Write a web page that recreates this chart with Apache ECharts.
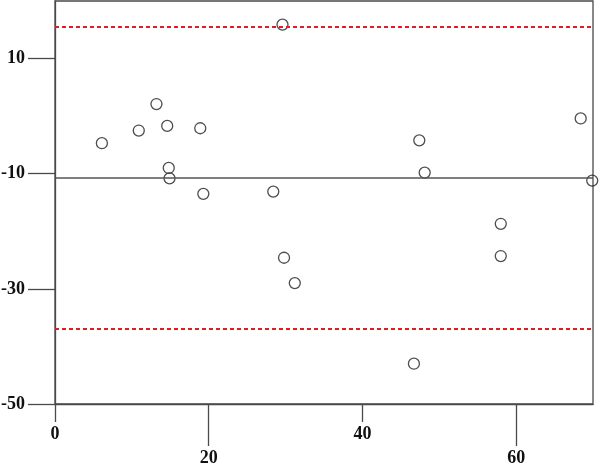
<!DOCTYPE html>
<html>
<head>
<meta charset="utf-8">
<script src="https://cdn.jsdelivr.net/npm/echarts@6/dist/echarts.min.js"></script>
<style>html,body{margin:0;padding:0;background:#fff}#c{width:600px;height:465px}</style>
</head>
<body>
<div id="c"></div>
<script>
// Data
var meanX = [6.1, 10.9, 13.2, 14.6, 18.9, 14.8, 14.9, 19.3, 28.4, 29.6, 68.4, 47.4, 48.1, 69.9, 29.8, 31.2, 58.0, 58.0, 46.7];
var diffY = [-4.7, -2.5, 2.1, -1.7, -2.1, -9.0, -10.8, -13.5, -13.1, 15.9, -0.4, -4.2, -9.8, -11.2, -24.6, -29.0, -18.7, -24.3, -43.0];
var meanLine = [-10.7];
var limitLines = [15.6, -36.9];
var xTicksShort = [0, 40];
var xTicksLong = [20, 60];
var yTicks = [-50, -30, -10, 10];

var points = meanX.map(function (x, i) { return [x, diffY[i]]; });
var font = '"Liberation Serif", "Times New Roman", serif';
var axisColor = '#4a4a4a';

var chart = echarts.init(document.getElementById('c'), null, {renderer: 'canvas'});
chart.setOption({
  animation: false,
  backgroundColor: '#fff',
  grid: {left: 55, right: 7, top: 1, bottom: 61, outerBoundsMode: 'none', containLabel: false, show: true, borderColor: axisColor, borderWidth: 1.3, backgroundColor: 'transparent'},
  xAxis: [{
    type: 'value', min: 0, max: 70, position: 'bottom',
    axisLine: {show: true, onZero: false, lineStyle: {color: axisColor, width: 1.3}},
    axisTick: {show: true, length: 18, customValues: xTicksShort, lineStyle: {color: axisColor, width: 1.3}},
    axisLabel: {customValues: xTicksShort, margin: 21, fontFamily: font, fontWeight: 'bold', fontSize: 18, color: '#111'},
    splitLine: {show: false}
  }, {
    type: 'value', min: 0, max: 70, position: 'bottom',
    axisLine: {show: false, onZero: false},
    axisTick: {show: true, length: 42, customValues: xTicksLong, lineStyle: {color: axisColor, width: 1.3}},
    axisLabel: {customValues: xTicksLong, margin: 45, fontFamily: font, fontWeight: 'bold', fontSize: 18, color: '#111'},
    splitLine: {show: false}
  }],
  yAxis: {
    type: 'value', min: -50, max: 20,
    axisLine: {show: true, onZero: false, lineStyle: {color: axisColor, width: 1.3}},
    axisTick: {show: true, length: 27, customValues: yTicks, lineStyle: {color: axisColor, width: 1.3}},
    axisLabel: {customValues: yTicks, margin: 30, fontFamily: font, fontWeight: 'bold', fontSize: 18, color: '#111'},
    splitLine: {show: false}
  },
  series: [{
    type: 'scatter',
    xAxisIndex: 0,
    data: points,
    symbol: 'circle',
    symbolSize: 11,
    clip: false,
    itemStyle: {color: 'rgba(255,255,255,0)', borderColor: '#222', borderWidth: 1.3},
    markLine: {
      silent: true, symbol: 'none', label: {show: false}, animation: false,
      data: [
        {yAxis: meanLine[0], lineStyle: {color: '#555', width: 1.5, type: 'solid'}},
        {yAxis: limitLines[0], lineStyle: {color: '#e31b23', width: 1.8, type: [4, 3]}},
        {yAxis: limitLines[1], lineStyle: {color: '#e31b23', width: 1.8, type: [4, 3]}}
      ]
    }
  }]
});
</script>
</body>
</html>
